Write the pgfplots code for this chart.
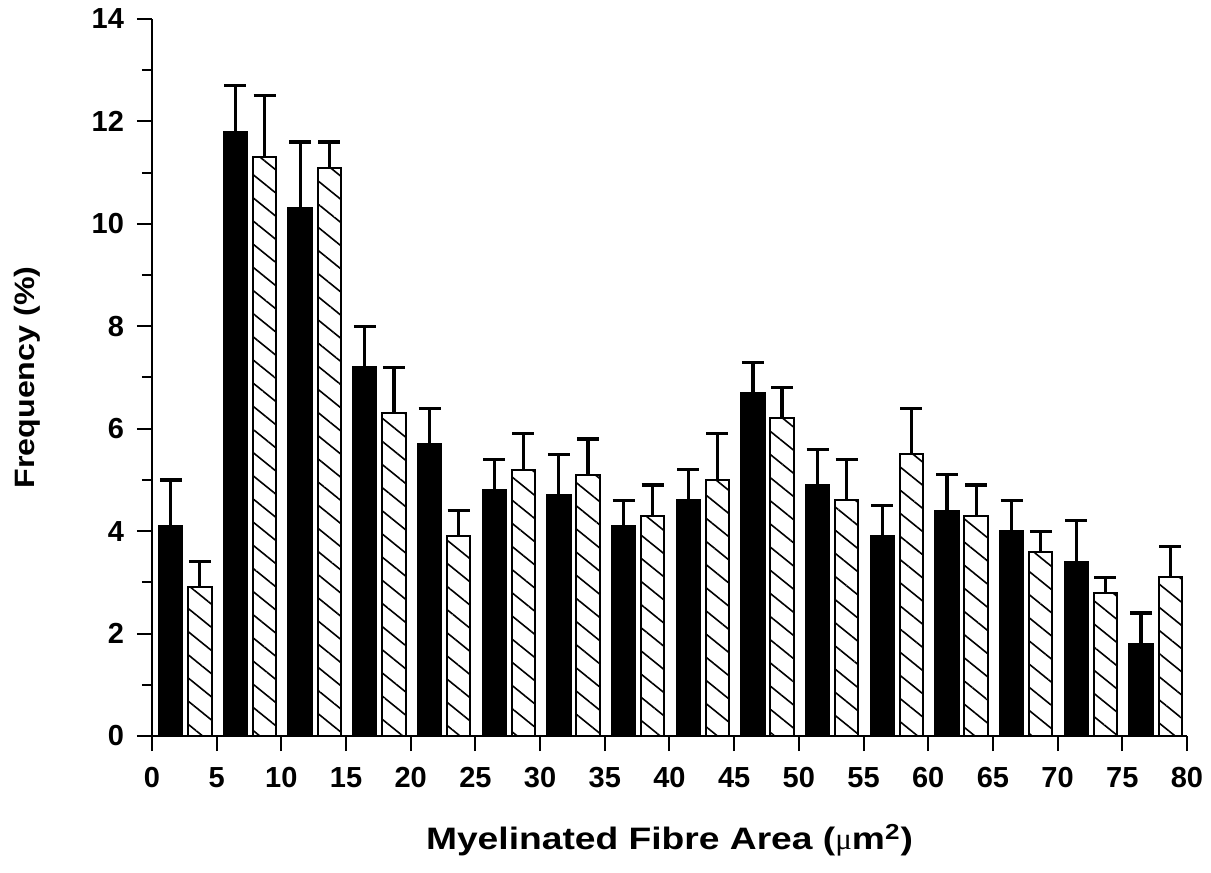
\documentclass[border=0pt]{standalone}
\usepackage{fontspec}
\setmainfont{Liberation Sans}
\newfontfamily\labfont[FakeStretch=1.2]{Liberation Sans}
\newfontfamily\ylabfont[FakeStretch=1.15]{Liberation Sans}
\newfontfamily\symfont{Liberation Serif}
\usepackage{pgfplots}
\usepackage{pgfplotstable}
\pgfplotsset{compat=1.18}
\usetikzlibrary{patterns.meta}

\pgfplotstableread{
x y e
1.45 4.1 0.9
6.45 11.8 0.9
11.45 10.3 1.3
16.45 7.2 0.8
21.45 5.7 0.7
26.45 4.8 0.6
31.45 4.7 0.8
36.45 4.1 0.5
41.45 4.6 0.6
46.45 6.7 0.6
51.45 4.9 0.7
56.45 3.9 0.6
61.45 4.4 0.7
66.45 4.0 0.6
71.45 3.4 0.8
76.45 1.8 0.6
}\blackdata

\pgfplotstableread{
x y e
3.7 2.9 0.5
8.7 11.3 1.2
13.7 11.1 0.5
18.7 6.3 0.9
23.7 3.9 0.5
28.7 5.2 0.7
33.7 5.1 0.7
38.7 4.3 0.6
43.7 5.0 0.9
48.7 6.2 0.6
53.7 4.6 0.8
58.7 5.5 0.9
63.7 4.3 0.6
68.7 3.6 0.4
73.7 2.8 0.3
78.7 3.1 0.6
}\hatchdata

\begin{document}
\begin{tikzpicture}
\path[use as bounding box] (-76pt,-68.5pt) rectangle (529.5pt,368pt);
\begin{axis}[
  at={(0,0)}, anchor=south west,
  scale only axis,
  width=517.5pt, height=358.5pt,
  xmin=0, xmax=80, ymin=0, ymax=14,
  axis x line=bottom, axis y line=left,
  axis line style={-, line width=1.3pt},
  xtick={0,5,...,80},
  ytick={0,2,...,14},
  minor ytick={1,3,...,13},
  tick align=outside,
  major tick length=7.5pt,
  minor tick length=5pt,
  tick style={line width=1pt, black},
  /pgf/number format/assume math mode=true,
  ticklabel style={font=\fontsize{14.5}{16}\selectfont\bfseries},
  xticklabel style={yshift=-4.5pt},
  yticklabel style={xshift=-3pt},
  xlabel={Myelinated Fibre Area ({\symfont\mdseries μ}m\textsuperscript{2})},
  ylabel={Frequency (\%)},
  every axis x label/.style={at={(axis description cs:0.5,-0.145)}, anchor=center,
     font=\fontsize{15.5}{17}\selectfont\labfont\bfseries},
  every axis y label/.style={at={(axis description cs:-0.1208,0.5)}, rotate=90, anchor=center,
     font=\fontsize{14}{16}\selectfont\ylabfont\bfseries},
  ybar,
  bar width=1.8,
  clip=false,
]
\addplot[bar shift=0pt, fill=black, draw=black, line width=1pt,
  error bars/.cd, y dir=plus, y explicit, error mark=|,
  error bar style={line width=1.6pt, black},
  error mark options={line width=1.6pt, mark size=5.5pt, black}]
  table[x=x, y=y, y error=e] {\blackdata};
\addplot[bar shift=0pt, draw=black, line width=1pt,
  pattern={Lines[angle=-39, distance=9pt, line width=0.8pt]},
  error bars/.cd, y dir=plus, y explicit, error mark=|,
  error bar style={line width=1.6pt, black},
  error mark options={line width=1.6pt, mark size=5.5pt, black}]
  table[x=x, y=y, y error=e] {\hatchdata};
\end{axis}
\end{tikzpicture}
\end{document}
